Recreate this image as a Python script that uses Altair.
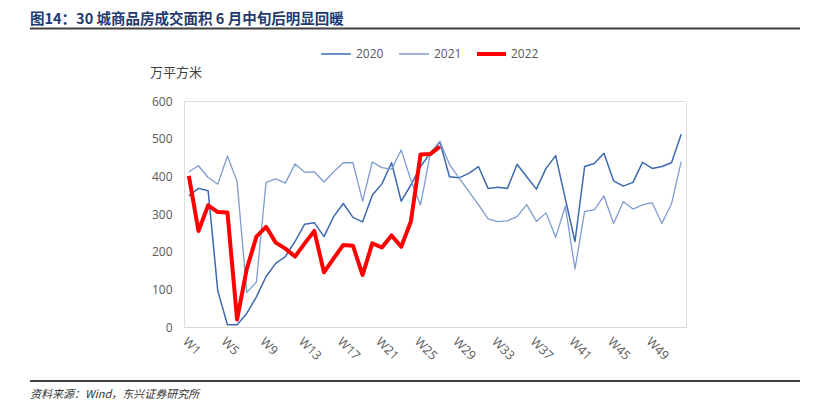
import altair as alt
import pandas as pd

weeks = [f"W{i}" for i in range(1, 53)]
tick_weeks = ["W1", "W5", "W9", "W13", "W17", "W21", "W25", "W29", "W33", "W37", "W41", "W45", "W49"]
years = ["2020", "2021", "2022"]

y2020 = [348, 368, 362, 96, 6, 6, 36, 80, 134, 169, 187, 227, 273, 277, 240, 293, 328, 291, 279, 350,
         380, 436, 334, 377, 426, 461, 492, 399, 396, 408, 426, 368, 371, 368, 432, 399, 366, 421, 455, 340,
         227, 426, 434, 461, 388, 374, 384, 437, 421, 426, 436, 512]
y2021 = [412, 428, 397, 379, 454, 386, 92, 119, 384, 393, 382, 433, 411, 412, 385, 412, 436, 436, 334, 438,
         423, 419, 470, 390, 324, 458, 493, 432, 395, 360, 325, 287, 280, 282, 293, 325, 280, 303, 238, 321,
         154, 307, 311, 348, 275, 333, 313, 324, 330, 275, 327, 439]
y2022 = [401, 255, 323, 305, 304, 20, 154, 240, 266, 224, 208, 187, 222, 255, 145, 182, 218, 216, 138, 222,
         211, 243, 213, 280, 458, 459, 479]

title_text = "图14：30 城商品房成交面积 6 月中旬后明显回暖"
unit_text = "万平方米"
source_text = "资料来源：Wind，东兴证券研究所"

colors = {"2020": "#3D6AAF", "2021": "#7E9CCF", "2022": "#FF0000"}
widths = {"2020": 1.5, "2021": 1.3, "2022": 4}

rows = []
for yr, vals in zip(years, [y2020, y2021, y2022]):
    for w, v in zip(weeks, vals):
        rows.append({"week": w, "year": yr, "value": v})
df = pd.DataFrame(rows)

W, H = 502, 226
LAB = "Open Sans"
CJK = "Noto Sans CJK SC"

x_enc = alt.X("week:N", sort=weeks,
              scale=alt.Scale(type="point", padding=0.5, domain=weeks),
              axis=alt.Axis(values=tick_weeks, labelAngle=45, labelColor="#595959", labelFont=LAB,
                            labelFontSize=12.5, labelPadding=8, ticks=False, grid=False,
                            domainColor="#D9D9D9", domainWidth=1, title=None))
y_enc = alt.Y("value:Q", scale=alt.Scale(domain=[0, 600], nice=False, zero=True),
              axis=alt.Axis(values=[0, 100, 200, 300, 400, 500, 600], labelColor="#595959",
                            labelFont=LAB, labelFontSize=12, labelPadding=12, ticks=False,
                            grid=False, domain=False, title=None))

base = alt.Chart(df)
lines = []
for yr in years:
    lines.append(
        base.transform_filter(alt.datum.year == yr)
        .mark_line(color=colors[yr], strokeWidth=widths[yr], strokeJoin="round")
        .encode(x=x_enc, y=y_enc)
    )

def txt(s, x, y, **kw):
    return alt.Chart(pd.DataFrame({"t": [s]})).mark_text(**kw).encode(
        x=alt.value(x), y=alt.value(y), text="t:N")

def rule(x1, x2, y, color, w):
    return alt.Chart(pd.DataFrame({"a": [0]})).mark_rule(color=color, strokeWidth=w).encode(
        x=alt.value(x1), x2=alt.value(x2), y=alt.value(y))

deco = [
    txt(title_text, -154, -81.5, align="left", baseline="middle", font=CJK, fontSize=14.5,
        fontWeight="bold", color="#1F3B70"),
    rule(-154, 616, -72.5, "#404040", 2),
    rule(-154, 616, 280, "#000000", 1.5),
    txt(source_text, -154, 294, align="left", baseline="middle", font=CJK, fontSize=11,
        fontStyle="italic", color="#333333"),
    txt(unit_text, -34, -28, align="left", baseline="middle", font=CJK, fontSize=13, color="#404040"),
]

leg_items = [("2020", 137, 167, 172), ("2021", 215, 245, 250), ("2022", 293, 322, 327)]
for yr, a, b, t in leg_items:
    deco.append(rule(a, b, -47, colors[yr], widths[yr] if yr == "2022" else 1.5))
    deco.append(txt(yr, t, -47, align="left", baseline="middle", font=LAB, fontSize=12, color="#595959"))

chart = alt.layer(*lines, *deco).properties(
    width=W, height=H,
    autosize=alt.AutoSizeParams(type="none"),
    padding={"left": 176, "top": 93, "right": 132, "bottom": 79},
).configure_view(stroke=None).configure(background="white")

chart.save("out.html", embed_options={"renderer": "svg", "actions": False})
